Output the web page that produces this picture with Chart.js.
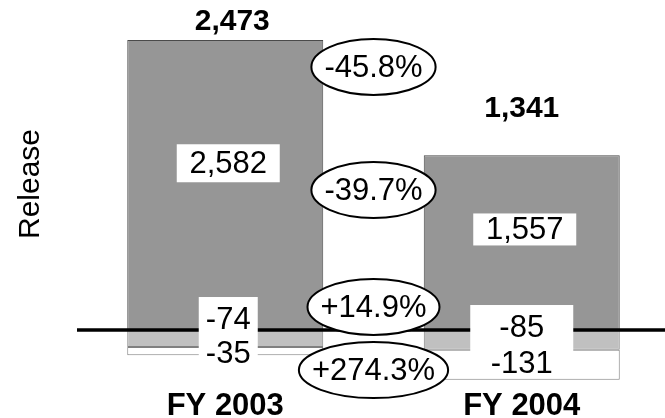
<!DOCTYPE html>
<html>
<head>
<meta charset="utf-8">
<script src="https://cdn.jsdelivr.net/npm/chart.js@4/dist/chart.umd.min.js"></script>
<style>
  html, body { margin: 0; padding: 0; background: #fff; overflow: hidden; }
  #wrap { width: 670px; height: 418px; position: relative; }
</style>
</head>
<body>
<div id="wrap"><canvas id="releaseChart"></canvas></div>
<script>
// chart values
var categories = ['FY 2003', 'FY 2004'];
var grossRelease = [2582, 1557];
var adjustA = [-74, -85];
var adjustB = [-35, -131];
var netRelease = [2473, 1341];
var changeLabels = ['-45.8%', '-39.7%', '+14.9%', '+274.3%'];

var FONT = '"Liberation Sans", Arial, sans-serif';

function fmt(v) {
    return v.toLocaleString('en-US');
}

// labels, boxes, ellipses and the zero line drawn on top of the bars
var annotate = {
    id: 'annotate',
    afterDatasetsDraw: function(chart) {
        var ctx = chart.ctx;
        var x = chart.scales.x;
        var y = chart.scales.y;
        var y2 = chart.scales.y2;
        var area = chart.chartArea;
        var zero = y.getPixelForValue(0);

        ctx.save();
        // zero line
        ctx.strokeStyle = '#000';
        ctx.lineWidth = 3.5;
        ctx.beginPath();
        ctx.moveTo(area.left, zero);
        ctx.lineTo(area.right, zero);
        ctx.stroke();

        ctx.textAlign = 'center';
        ctx.textBaseline = 'middle';

        // gross value boxes
        ctx.font = '31px ' + FONT;
        grossRelease.forEach(function(v, i) {
            var cx = x.getPixelForValue(i) + 3;
            var cy = y.getPixelForValue(v * 0.575);
            var w = 103, h = [38, 32][i];
            ctx.fillStyle = '#fff';
            ctx.fillRect(cx - w / 2, cy - h / 2, w, h);
            ctx.fillStyle = '#000';
            ctx.fillText(fmt(v), cx, cy + 1);
        });

        // negative value boxes
        var boxW = [59, 103];
        var upOff = [11, 3];
        var downOff = [23, 33];
        adjustA.forEach(function(v, i) {
            var cx = x.getPixelForValue(i) + [3, 0][i];
            var c1 = zero - upOff[i];
            var c2 = zero + downOff[i];
            ctx.fillStyle = '#fff';
            ctx.fillRect(cx - boxW[i] / 2, c1 - 22, boxW[i], (c2 + 14) - (c1 - 22));
            ctx.fillStyle = '#000';
            ctx.fillText(fmt(v), cx, c1 + 1);
            ctx.fillText(fmt(adjustB[i]), cx, c2 + 1);
        });

        // percent change ellipses between the bars
        var mid = (x.getPixelForValue(0) + x.getPixelForValue(1)) / 2;
        var ys = [
            y.getPixelForValue(2342),
            y.getPixelForValue(1246),
            y.getPixelForValue(205),
            y2.getPixelForValue(-174)
        ];
        changeLabels.forEach(function(t, i) {
            var tw = ctx.measureText(t).width;
            var rx = (tw + 26) / 2, ry = 28;
            ctx.beginPath();
            ctx.ellipse(mid, ys[i], rx, ry, 0, 0, Math.PI * 2);
            ctx.fillStyle = '#fff';
            ctx.fill();
            ctx.lineWidth = 2;
            ctx.strokeStyle = '#000';
            ctx.stroke();
            ctx.fillStyle = '#000';
            ctx.fillText(t, mid, ys[i] + 1);
        });

        // net totals above bars
        ctx.font = 'bold 30px ' + FONT;
        var totOff = [18, 46];
        netRelease.forEach(function(v, i) {
            var cx = x.getPixelForValue(i) + [7, 0][i];
            var top = y.getPixelForValue(grossRelease[i]);
            ctx.fillText(fmt(v), cx, top - totOff[i]);
        });

        // axis title
        ctx.font = '30px ' + FONT;
        ctx.translate(31, 184);
        ctx.rotate(-Math.PI / 2);
        ctx.fillText('Release', 0, 0);
        ctx.restore();
    }
};

document.addEventListener('DOMContentLoaded', function() {
    var ctx = document.getElementById('releaseChart').getContext('2d');
    var releaseChart = new Chart(ctx, {
        type: 'bar',
        data: {
            labels: categories,
            datasets: [{
                label: 'Gross',
                data: grossRelease,
                yAxisID: 'y',
                backgroundColor: '#969696',
                borderColor: '#4a4a4a',
                borderWidth: 1,
                borderSkipped: false
            }, {
                label: 'Adjustment A',
                data: adjustA,
                yAxisID: 'y2',
                backgroundColor: '#c0c0c0',
                borderColor: '#808080',
                borderWidth: 1,
                borderSkipped: false
            }, {
                label: 'Adjustment B',
                data: adjustB,
                yAxisID: 'y2',
                backgroundColor: '#ffffff',
                borderColor: '#808080',
                borderWidth: 1,
                borderSkipped: false
            }]
        },
        options: {
            responsive: true,
            maintainAspectRatio: false,
            animation: false,
            datasets: {
                bar: {
                    barPercentage: 0.661,
                    categoryPercentage: 1
                }
            },
            layout: {
                padding: { top: 40, right: 0, bottom: 0, left: 0 }
            },
            scales: {
                x: {
                    stacked: true,
                    grid: { display: false },
                    border: { display: false },
                    ticks: {
                        padding: 0,
                        color: '#000',
                        font: { family: FONT, size: 31, weight: 'bold' }
                    },
                    afterFit: function(scale) { scale.height = 38; }
                },
                y: {
                    stacked: true,
                    min: -445,
                    max: 2582,
                    grid: { display: false },
                    border: { display: false },
                    ticks: { display: false },
                    afterFit: function(scale) { scale.width = 77; }
                },
                y2: {
                    stacked: true,
                    display: false,
                    min: -217,
                    max: 1261
                }
            },
            plugins: {
                legend: { display: false },
                tooltip: { enabled: false }
            }
        },
        plugins: [annotate]
    });
});
</script>
</body>
</html>
